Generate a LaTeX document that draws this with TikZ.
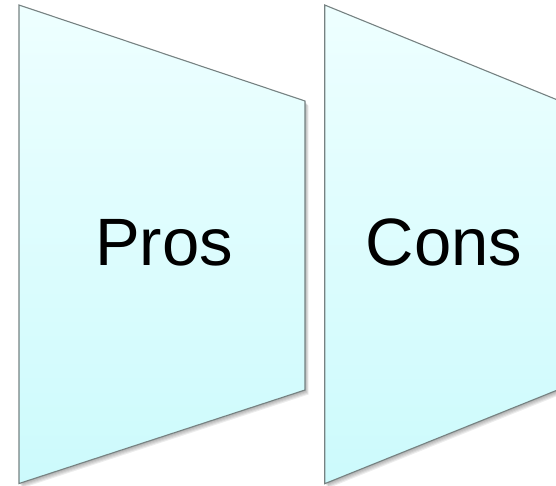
\documentclass[tikz,border=0pt]{standalone}
\usepackage{fontspec}
\setmainfont{Liberation Sans}
\begin{document}
\begin{tikzpicture}[x=1pt,y=-1pt,
  panel/.style={top color=panelTop, bottom color=panelBot, draw=panelEdge, line width=1.1pt, line join=miter},
  lbl/.style={anchor=base, inner sep=0pt, font=\fontsize{67}{80}\selectfont, text=black}]
\definecolor{panelTop}{RGB}{238,255,255}
\definecolor{panelBot}{RGB}{204,250,252}
\definecolor{panelEdge}{RGB}{118,130,130}
\useasboundingbox (0,0) rectangle (556,485);
\clip (0,0) rectangle (556,485);
% shadows
\foreach \s in {1,2,3,4,5} {
  \fill[black, opacity=0.07] ([shift={(\s*0.7,\s*0.9)}]19,5) -- ([shift={(\s*0.7,\s*0.9)}]305,101) -- ([shift={(\s*0.7,\s*0.9)}]305,390) -- ([shift={(\s*0.7,\s*0.9)}]19,483.5) -- cycle;
  \fill[black, opacity=0.07] ([shift={(\s*0.7,\s*0.9)}]324.7,5) -- ([shift={(\s*0.7,\s*0.9)}]560,101) -- ([shift={(\s*0.7,\s*0.9)}]560,389) -- ([shift={(\s*0.7,\s*0.9)}]324.7,483.7) -- cycle;
}
% panels
\path[panel] (19,5) -- (305,101) -- (305,390) -- (19,483.5) -- cycle;
\path[panel] (324.7,5) -- (560,101) -- (560,389) -- (324.7,483.7) -- cycle;
% labels
\node[lbl] (pros) at (164,265) {Pros};
\node[lbl] (cons) at (444,265) {Cons};
\end{tikzpicture}
\end{document}
